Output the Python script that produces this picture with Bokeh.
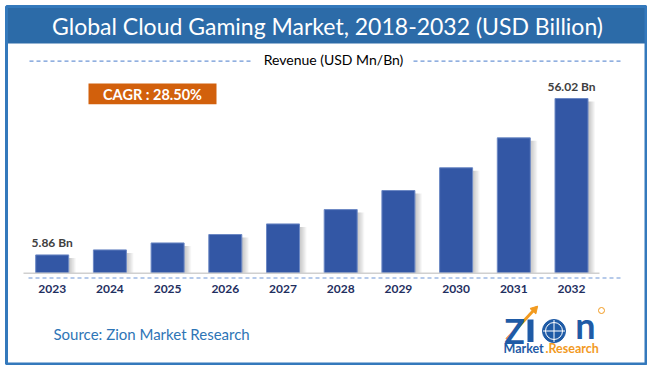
from bokeh.plotting import figure
from bokeh.models import Range1d, Label
from bokeh.core.properties import value
from bokeh.embed import file_html
from bokeh.resources import INLINE

# ---- data ----
years = ["2023", "2024", "2025", "2026", "2027", "2028", "2029", "2030", "2031", "2032"]
revenue = [5.86, 7.47, 9.70, 12.40, 15.80, 20.40, 26.50, 33.80, 43.40, 56.02]
value_labels = ["5.86 Bn", "", "", "", "", "", "", "", "", "56.02 Bn"]
title_text = "Global Cloud Gaming Market, 2018-2032 (USD Billion)"
subtitle_text = "Revenue (USD Mn/Bn)"
cagr_text = "CAGR : 28.50%"
source_text = "Source: Zion Market Research"

# ---- layout (picture pixels -> data coords) ----
W, H = 647, 365
OFF = 0
STEP = 57.7           # px per category slot
X0PX = 51.7           # x of first bar centre
BASE = 272.7          # y of baseline
K = (BASE - 98.0) / 56.02  # px per unit

def X(px):
    return (px - X0PX) / STEP

def Y(py):
    return (BASE - py) / K

x_start, x_end = X(OFF), X(OFF + W)
y_start, y_end = Y(OFF + H), Y(OFF)

p = figure(width=W, height=H, output_backend="svg", toolbar_location=None,
           x_range=Range1d(x_start, x_end), y_range=Range1d(y_start, y_end),
           x_axis_location=None, y_axis_location=None, min_border=0)
p.outline_line_color = None
p.background_fill_color = "white"
p.border_fill_color = "white"
p.xgrid.visible = False
p.ygrid.visible = False

FONT = "Lato"
FR_L, FR_R, FR_T, FR_B = 6, 645.5, 6, 363.5

# title band
p.quad(left=[X(FR_L)], right=[X(FR_R)], top=[Y(FR_T)], bottom=[Y(43)],
       fill_color="#2C6BA8", line_color=None)
# frame border
p.quad(left=[X(FR_L)], right=[X(FR_R)], top=[Y(FR_T)], bottom=[Y(FR_B)],
       fill_color=None, line_color="#3479BC", line_width=3)

p.add_layout(Label(x=X(327), y=Y(25), text=title_text, text_color="white",
                   text_font=FONT, text_font_size="23px", text_align="center",
                   text_baseline="middle"))

# subtitle with dashed lines
p.segment(x0=[X(29), X(413)], y0=[Y(60.7)] * 2, x1=[X(250), X(620.7)], y1=[Y(60.7)] * 2,
          line_color="#6E96D6", line_width=1.2, line_dash="4 3")
p.add_layout(Label(x=X(333), y=Y(59), text=subtitle_text, text_color="#000000",
                   text_font=FONT, text_font_size="14px", text_align="center",
                   text_baseline="middle"))

# CAGR box
p.quad(left=[X(88)], right=[X(216)], top=[Y(83)], bottom=[Y(103.7)],
       fill_color="#D2600C", line_color=None)
p.add_layout(Label(x=X(152), y=Y(93.5), text=cagr_text, text_color="white",
                   text_font=FONT, text_font_style="bold", text_font_size="14.5px",
                   text_align="center", text_baseline="middle"))

idx = list(range(len(years)))
BW = 33.0 / STEP

# bar shadows
for j in range(7):
    p.vbar(x=[i + BW / 2 + (j + 0.5) / STEP for i in idx], width=1.0 / STEP,
           top=[v - 3.0 / K for v in revenue], bottom=0,
           fill_color="#7a7a7a", fill_alpha=0.45 * (1 - j / 7.0), line_color=None)

# bars
p.vbar(x=idx, width=BW, top=revenue, bottom=0, fill_color="#3357A5",
       line_color="#6C88C4", line_width=1)

# baseline & dashed axis line
p.segment(x0=[X(23)], y0=[0], x1=[X(599)], y1=[0], line_color="#D0D0D0", line_width=1.5)
p.segment(x0=[X(28)], y0=[Y(277.5)], x1=[X(620.7)], y1=[Y(277.5)],
          line_color="#6E96D6", line_width=1.2, line_dash="4 3")

# year labels
p.text(x=idx, y=[Y(288.5)] * len(idx), text=years, text_color="#1F2F5F",
       text_font=value(FONT), text_font_style="bold", text_font_size="12px",
       text_align="center", text_baseline="middle")

# value labels
p.text(x=idx, y=[v + 12.0 / K for v in revenue], text=value_labels, text_color="#404040",
       text_font=value(FONT), text_font_style="bold", text_font_size="12px",
       text_align="center", text_baseline="middle")

# source
p.add_layout(Label(x=X(53), y=Y(333), text=source_text, text_color="#2E75B6",
                   text_font=FONT, text_font_size="15px", text_align="left",
                   text_baseline="middle"))

# logo (simplified)
LB = "#1F5BA6"
LO = "#F29A1F"
p.add_layout(Label(x=X(514), y=Y(330), text="Z", text_color=LB, text_font=FONT,
                   text_font_style="bold", text_font_size="34px", text_align="center",
                   text_baseline="middle"))
p.quad(left=[X(527)], right=[X(533)], top=[Y(319)], bottom=[Y(341.5)], fill_color=LB, line_color=None)
p.circle(x=[X(553.5)], y=[Y(330.5)], radius=11.5 / STEP, fill_color=LB, line_color=LB)
p.circle(x=[X(553.5)], y=[Y(330.5)], radius=8.5 / STEP, fill_color=None, line_color="white", line_width=1)
p.segment(x0=[X(553.5), X(542.5)], y0=[Y(319.5), Y(330.5)], x1=[X(553.5), X(564.5)], y1=[Y(341.5), Y(330.5)],
          line_color="white", line_width=1)
p.add_layout(Label(x=X(585), y=Y(324.5), text="n", text_color=LB, text_font=FONT,
                   text_font_style="bold", text_font_size="36px", text_align="center",
                   text_baseline="middle"))
p.segment(x0=[X(506)], y0=[Y(339)], x1=[X(533)], y1=[Y(310)], line_color=LO, line_width=3)
p.triangle(x=[X(534)], y=[Y(309)], size=8, angle=-0.75, fill_color=LO, line_color=LO)
p.circle(x=[X(601)], y=[Y(310)], radius=3 / STEP, fill_color=None, line_color=LO, line_width=1)
p.add_layout(Label(x=X(503), y=Y(348), text="Market", text_color=LB, text_font=FONT,
                   text_font_style="bold", text_font_size="12.5px", text_align="left",
                   text_baseline="middle"))
p.add_layout(Label(x=X(545), y=Y(348), text=".Research", text_color=LO, text_font=FONT,
                   text_font_style="bold", text_font_size="12.5px", text_align="left",
                   text_baseline="middle"))

open("out.html", "w").write(file_html(p, INLINE))
